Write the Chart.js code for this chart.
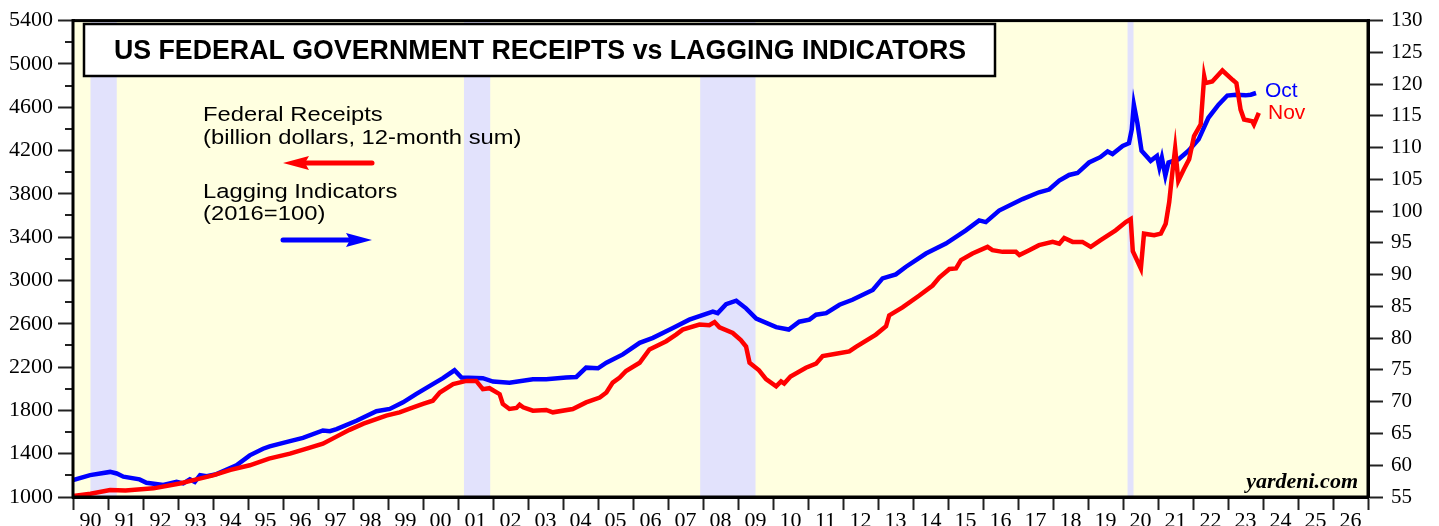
<!DOCTYPE html>
<html>
<head>
<meta charset="utf-8">
<script src="https://cdn.jsdelivr.net/npm/chart.js@4.4.1/dist/chart.umd.min.js"></script>
<style>
  html, body { margin: 0; padding: 0; background: #ffffff; }
  #c { display: block; }
</style>
</head>
<body>
<canvas id="c" width="1439" height="526"></canvas>
<script>
// ---------- DATA ----------
const receiptDates = [1990.0,1990.5,1991.06,1991.5,1992.3,1993.05,1993.5,1994.0,1994.5,1995.05,1995.6,1996.2,1996.7,1997.14,1997.5,1997.9,1998.3,1998.95,1999.33,1999.6,2000.0,2000.28,2000.48,2000.86,2001.24,2001.52,2001.71,2001.9,2002.19,2002.28,2002.47,2002.67,2002.76,2002.86,2003.14,2003.52,2003.71,2004.28,2004.66,2005.05,2005.24,2005.42,2005.62,2005.8,2006.19,2006.47,2006.66,2006.95,2007.23,2007.42,2007.9,2008.18,2008.33,2008.47,2008.85,2009.08,2009.23,2009.33,2009.6,2009.8,2010.09,2010.23,2010.32,2010.5,2010.94,2011.23,2011.42,2011.8,2012.18,2012.37,2012.94,2013.23,2013.32,2013.7,2014.18,2014.56,2014.75,2015.04,2015.23,2015.37,2015.7,2016.13,2016.27,2016.56,2016.94,2017.04,2017.32,2017.6,2017.99,2018.18,2018.32,2018.56,2018.84,2019.08,2019.35,2019.79,2020.08,2020.22,2020.28,2020.51,2020.6,2020.89,2021.08,2021.22,2021.32,2021.41,2021.49,2021.58,2021.74,2021.89,2022.03,2022.22,2022.32,2022.36,2022.55,2022.84,2023.13,2023.24,2023.36,2023.46,2023.69,2023.74,2023.88];
const receiptValues = [1010,1030,1064,1060,1080,1125,1160,1200,1250,1293,1355,1400,1450,1492,1553,1620,1678,1752,1782,1813,1860,1889,1965,2042,2072,2072,1996,2005,1950,1859,1813,1822,1852,1828,1797,1804,1782,1813,1874,1919,1965,2057,2103,2164,2240,2363,2393,2439,2500,2546,2592,2586,2616,2567,2515,2450,2390,2240,2170,2088,2022,2068,2048,2112,2194,2231,2302,2323,2345,2387,2500,2577,2677,2751,2861,2953,3026,3106,3111,3188,3249,3310,3280,3264,3264,3234,3280,3326,3356,3340,3392,3356,3356,3310,3370,3463,3539,3566,3270,3111,3432,3417,3432,3524,3723,3998,4218,3921,4028,4120,4334,4441,4884,4823,4838,4939,4853,4823,4578,4486,4471,4440,4548];

const laggingDates = [1990.0,1990.49,1991.06,1991.25,1991.44,1991.9,1992.1,1992.58,1992.96,1993.15,1993.34,1993.48,1993.63,1993.82,1994.1,1994.67,1995.05,1995.43,1995.62,1996.2,1996.57,1997.14,1997.34,1997.53,1998.1,1998.67,1999.05,1999.43,1999.8,2000.28,2000.57,2000.9,2001.1,2001.71,2002.0,2002.47,2003.14,2003.52,2004.09,2004.38,2004.66,2005.0,2005.24,2005.71,2006.19,2006.57,2007.14,2007.61,2008.28,2008.42,2008.66,2008.95,2009.23,2009.52,2010.09,2010.45,2010.75,2011.04,2011.23,2011.52,2011.9,2012.27,2012.85,2013.13,2013.51,2013.8,2014.37,2014.94,2015.51,2015.89,2016.08,2016.46,2017.13,2017.6,2017.89,2018.18,2018.46,2018.7,2019.03,2019.35,2019.56,2019.7,2019.99,2020.17,2020.25,2020.31,2020.41,2020.53,2020.79,2020.97,2021.04,2021.11,2021.21,2021.3,2021.59,2021.87,2022.16,2022.44,2022.73,2022.98,2023.22,2023.5,2023.65,2023.8];
const laggingValues = [57.66,58.44,58.95,58.7,58.2,57.77,57.24,56.88,57.39,57.14,57.77,57.39,58.44,58.28,58.6,60.0,61.56,62.6,62.97,63.8,64.3,65.47,65.36,65.7,67.0,68.5,68.86,69.9,71.2,72.77,73.7,74.95,73.8,73.7,73.17,73.0,73.55,73.55,73.8,73.9,75.36,75.26,76.14,77.45,79.27,80.05,81.6,82.92,84.2,83.95,85.36,85.9,84.7,83.1,81.75,81.36,82.6,82.92,83.7,83.95,85.27,86.05,87.6,89.42,90.05,91.25,93.33,94.9,96.98,98.55,98.28,100.1,101.9,102.97,103.4,104.8,105.7,106.0,107.66,108.5,109.4,109.0,110.27,110.7,112.86,116.77,113.9,109.5,107.92,108.7,106.9,108.4,105.58,107.66,108.17,109.5,111.3,114.7,116.77,118.2,118.33,118.23,118.33,118.6];

const recessionStarts = [1990.5, 2001.17, 2007.92, 2020.13];
const recessionEnds   = [1991.25, 2001.92, 2009.5, 2020.3];

const yearMin = 1990, yearMax = 2027;
const leftMin = 1000, leftMax = 5400, leftStep = 400;
const rightMin = 55, rightMax = 130, rightStep = 5;

const titleText = 'US FEDERAL GOVERNMENT RECEIPTS vs LAGGING INDICATORS';
const receiptsLabel = ['Federal Receipts', '(billion dollars, 12-month sum)'];
const laggingLabel = ['Lagging Indicators', '(2016=100)'];

// ---------- CHART ----------
const RED = '#ff0000', BLUE = '#0000ff';
const toXY = (xs, ys) => xs.map((x, i) => ({x: x, y: ys[i]}));

const bgPlugin = {
  id: 'bg',
  beforeDatasetsDraw(chart) {
    const {ctx, chartArea: a, scales} = chart;
    ctx.save();
    ctx.fillStyle = '#ffffe0';
    ctx.fillRect(a.left, a.top, a.right - a.left, a.bottom - a.top);
    ctx.fillStyle = '#e2e2fc';
    for (let i = 0; i < recessionStarts.length; i++) {
      const x0 = scales.x.getPixelForValue(recessionStarts[i]);
      const x1 = scales.x.getPixelForValue(recessionEnds[i]);
      ctx.fillRect(x0, a.top, x1 - x0, a.bottom - a.top);
    }
    ctx.restore();
  }
};

function arrow(ctx, x0, x1, y, color, pointLeft) {
  ctx.save();
  ctx.strokeStyle = color; ctx.fillStyle = color;
  ctx.lineWidth = 5; ctx.lineCap = 'round';
  const head = 26, hh = 7;
  ctx.beginPath();
  if (pointLeft) { ctx.moveTo(x0 + head - 4, y); ctx.lineTo(x1, y); }
  else { ctx.moveTo(x0, y); ctx.lineTo(x1 - head + 4, y); }
  ctx.stroke();
  ctx.beginPath();
  if (pointLeft) {
    ctx.moveTo(x0, y); ctx.lineTo(x0 + head, y - hh); ctx.lineTo(x0 + head - 4, y); ctx.lineTo(x0 + head, y + hh);
  } else {
    ctx.moveTo(x1, y); ctx.lineTo(x1 - head, y - hh); ctx.lineTo(x1 - head + 4, y); ctx.lineTo(x1 - head, y + hh);
  }
  ctx.closePath(); ctx.fill();
  ctx.restore();
}

function wideText(ctx, text, x, y, sx) {
  ctx.save();
  ctx.translate(x, y);
  ctx.scale(sx, 1);
  ctx.fillText(text, 0, 0);
  ctx.restore();
}

const decoPlugin = {
  id: 'deco',
  afterDraw(chart) {
    const {ctx, chartArea: a, scales} = chart;
    ctx.save();
    // minor ticks on left axis
    ctx.strokeStyle = '#222'; ctx.lineWidth = 2;
    for (let v = leftMin + leftStep / 2; v < leftMax; v += leftStep) {
      const y = Math.round(scales.y.getPixelForValue(v));
      ctx.beginPath(); ctx.moveTo(a.left - 8, y); ctx.lineTo(a.left, y); ctx.stroke();
    }
    // frame
    ctx.strokeStyle = '#000'; ctx.lineWidth = 3;
    ctx.strokeRect(a.left, a.top, a.right - a.left, a.bottom - a.top);

    // title box
    ctx.fillStyle = '#fff';
    ctx.fillRect(84, 24, 911, 52);
    ctx.strokeStyle = '#000'; ctx.lineWidth = 2.5;
    ctx.strokeRect(84, 24, 911, 52);
    let fs = 23;
    ctx.font = 'bold ' + fs + 'px "Liberation Sans", Arial, sans-serif';
    const w = ctx.measureText(titleText).width;
    fs = fs * 852 / w;
    ctx.font = 'bold ' + fs.toFixed(2) + 'px "Liberation Sans", Arial, sans-serif';
    ctx.fillStyle = '#000'; ctx.textAlign = 'center'; ctx.textBaseline = 'alphabetic';
    ctx.fillText(titleText, 540, 58.5);

    // legend
    ctx.textAlign = 'left';
    ctx.font = '20.5px "Liberation Sans", Arial, sans-serif';
    wideText(ctx, receiptsLabel[0], 203, 121, 1.16);
    wideText(ctx, receiptsLabel[1], 203, 143.5, 1.16);
    arrow(ctx, 283, 372, 163, RED, true);
    wideText(ctx, laggingLabel[0], 203, 197.5, 1.16);
    wideText(ctx, laggingLabel[1], 203, 220, 1.16);
    arrow(ctx, 283, 372, 240, BLUE, false);

    // end labels
    ctx.font = '20px "Liberation Sans", Arial, sans-serif';
    ctx.fillStyle = BLUE; wideText(ctx, 'Oct', 1265, 97, 1.05);
    ctx.fillStyle = RED; wideText(ctx, 'Nov', 1268, 118.5, 1.05);

    // source
    ctx.fillStyle = '#000'; ctx.textAlign = 'right';
    ctx.font = 'italic bold 22px "Liberation Serif", "Times New Roman", serif';
    ctx.fillText('yardeni.com', 1358, 487.5);
    ctx.restore();
  }
};

Chart.defaults.font.family = '"Liberation Serif", "Times New Roman", serif';
Chart.defaults.color = '#000';

new Chart(document.getElementById('c'), {
  type: 'line',
  data: {
    datasets: [
      { label: 'Lagging Indicators', data: toXY(laggingDates, laggingValues), yAxisID: 'y1',
        borderColor: BLUE, borderWidth: 4.5, pointRadius: 0, tension: 0, fill: false, order: 2 },
      { label: 'Federal Receipts', data: toXY(receiptDates, receiptValues), yAxisID: 'y',
        borderColor: RED, borderWidth: 4.5, pointRadius: 0, tension: 0, fill: false, order: 1 }
    ]
  },
  options: {
    responsive: false,
    animation: false,
    devicePixelRatio: 1,
    layout: { padding: { top: 17, left: 0, right: 0, bottom: 0 } },
    plugins: { legend: { display: false }, tooltip: { enabled: false } },
    scales: {
      x: {
        type: 'linear', min: yearMin, max: yearMax,
        afterFit: s => { s.height = 29; },
        border: { display: true, color: '#000', width: 3 },
        grid: { drawOnChartArea: false, drawTicks: true, tickLength: 13, tickWidth: 2, tickColor: '#222' },
        ticks: {
          stepSize: 1, autoSkip: false, maxRotation: 0, minRotation: 0,
          labelOffset: 17.5, padding: -2,
          font: { size: 22 },
          callback: v => (v >= yearMax ? '' : String(v % 100).padStart(2, '0'))
        }
      },
      y: {
        position: 'left', min: leftMin, max: leftMax,
        afterFit: s => { s.width = 73; },
        border: { display: true, color: '#000', width: 3 },
        grid: { drawOnChartArea: false, drawTicks: true, tickLength: 15, tickWidth: 2, tickColor: '#222' },
        ticks: { stepSize: leftStep, padding: 5, font: { size: 22 }, callback: v => String(v) }
      },
      y1: {
        position: 'right', min: rightMin, max: rightMax,
        afterFit: s => { s.width = 71; },
        border: { display: true, color: '#000', width: 3 },
        grid: { drawOnChartArea: false, drawTicks: true, tickLength: 15, tickWidth: 2, tickColor: '#222' },
        ticks: { stepSize: rightStep, padding: 8, font: { size: 21 }, callback: v => String(v) }
      }
    }
  },
  plugins: [bgPlugin, decoPlugin]
});
</script>
</body>
</html>
